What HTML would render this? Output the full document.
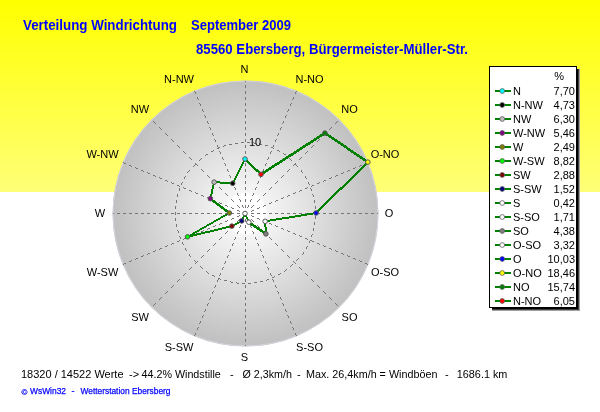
<!DOCTYPE html>
<html><head><meta charset="utf-8"><style>
html,body{margin:0;padding:0;background:#fff;}
body{width:600px;height:412px;overflow:hidden;position:relative;font-family:"Liberation Sans",sans-serif;}
svg{position:absolute;left:0;top:0;will-change:transform;}
svg text{font-family:"Liberation Sans",sans-serif;fill:#000;}

</style></head><body>
<svg width="600" height="412" viewBox="0 0 600 412">
<defs><linearGradient id="bg" x1="0" y1="0" x2="0" y2="1"><stop offset="0" stop-color="#FFFF00"/><stop offset="1" stop-color="#FFFF78"/></linearGradient><radialGradient id="disc" gradientUnits="userSpaceOnUse" cx="245.5" cy="213.5" r="133"><stop offset="0" stop-color="#FFFFFF"/><stop offset="0.152" stop-color="#FFFFFF"/><stop offset="0.162" stop-color="#F5F5F5"/><stop offset="1" stop-color="#C0C0C0"/></radialGradient></defs><rect x="0" y="0" width="600" height="192" fill="url(#bg)"/><circle cx="245.5" cy="213.5" r="133" fill="url(#disc)"/><circle cx="245.5" cy="213.5" r="132.4" fill="none" stroke="#D6D6E0" stroke-width="0.9"/><path fill="#767676" shape-rendering="crispEdges" d="M245 81h1v1h-1zM245 85h1v1h-1zM245 86h1v1h-1zM245 87h1v1h-1zM194 91h1v1h-1zM245 91h1v1h-1zM296 91h1v1h-1zM195 92h1v1h-1zM245 92h1v1h-1zM295 92h1v1h-1zM195 93h1v1h-1zM245 93h1v1h-1zM295 93h1v1h-1zM197 97h1v1h-1zM245 97h1v1h-1zM293 97h1v1h-1zM197 98h1v1h-1zM245 98h1v1h-1zM293 98h1v1h-1zM198 99h1v1h-1zM245 99h1v1h-1zM292 99h1v1h-1zM199 103h1v1h-1zM245 103h1v1h-1zM291 103h1v1h-1zM200 104h1v1h-1zM245 104h1v1h-1zM290 104h1v1h-1zM200 105h1v1h-1zM245 105h1v1h-1zM290 105h1v1h-1zM202 109h1v1h-1zM245 109h1v1h-1zM288 109h1v1h-1zM202 110h1v1h-1zM245 110h1v1h-1zM288 110h1v1h-1zM203 111h1v1h-1zM245 111h1v1h-1zM287 111h1v1h-1zM204 115h1v1h-1zM245 115h1v1h-1zM286 115h1v1h-1zM205 116h1v1h-1zM245 116h1v1h-1zM285 116h1v1h-1zM205 117h1v1h-1zM245 117h1v1h-1zM285 117h1v1h-1zM153 121h1v1h-1zM207 121h1v1h-1zM245 121h1v1h-1zM283 121h1v1h-1zM337 121h1v1h-1zM154 122h1v1h-1zM207 122h1v1h-1zM245 122h1v1h-1zM283 122h1v1h-1zM336 122h1v1h-1zM155 123h1v1h-1zM208 123h1v1h-1zM245 123h1v1h-1zM282 123h1v1h-1zM335 123h1v1h-1zM159 127h1v1h-1zM209 127h1v1h-1zM245 127h1v1h-1zM281 127h1v1h-1zM331 127h1v1h-1zM160 128h1v1h-1zM210 128h1v1h-1zM245 128h1v1h-1zM280 128h1v1h-1zM330 128h1v1h-1zM161 129h1v1h-1zM210 129h1v1h-1zM245 129h1v1h-1zM280 129h1v1h-1zM329 129h1v1h-1zM165 133h1v1h-1zM212 133h1v1h-1zM245 133h1v1h-1zM278 133h1v1h-1zM325 133h1v1h-1zM166 134h1v1h-1zM212 134h1v1h-1zM245 134h1v1h-1zM278 134h1v1h-1zM324 134h1v1h-1zM167 135h1v1h-1zM213 135h1v1h-1zM245 135h1v1h-1zM277 135h1v1h-1zM323 135h1v1h-1zM171 139h1v1h-1zM214 139h1v1h-1zM245 139h1v1h-1zM276 139h1v1h-1zM319 139h1v1h-1zM172 140h1v1h-1zM215 140h1v1h-1zM245 140h1v1h-1zM275 140h1v1h-1zM318 140h1v1h-1zM173 141h1v1h-1zM215 141h1v1h-1zM245 141h1v1h-1zM275 141h1v1h-1zM317 141h1v1h-1zM241 142h3v1h-3zM247 142h3v1h-3zM253 142h1v1h-1zM235 143h3v1h-3zM254 143h2v1h-2zM259 143h1v1h-1zM229 144h3v1h-3zM260 144h2v1h-2zM177 145h1v1h-1zM217 145h1v1h-1zM224 145h2v1h-2zM245 145h1v1h-1zM265 145h3v1h-3zM273 145h1v1h-1zM313 145h1v1h-1zM178 146h1v1h-1zM217 146h1v1h-1zM223 146h1v1h-1zM245 146h1v1h-1zM273 146h1v1h-1zM312 146h1v1h-1zM179 147h1v1h-1zM218 147h2v1h-2zM245 147h1v1h-1zM271 147h2v1h-2zM311 147h1v1h-1zM217 148h2v1h-2zM273 148h1v1h-1zM213 150h1v1h-1zM277 150h2v1h-2zM183 151h1v1h-1zM211 151h2v1h-2zM219 151h1v1h-1zM245 151h1v1h-1zM271 151h1v1h-1zM279 151h1v1h-1zM307 151h1v1h-1zM184 152h1v1h-1zM220 152h1v1h-1zM245 152h1v1h-1zM270 152h1v1h-1zM306 152h1v1h-1zM185 153h1v1h-1zM220 153h1v1h-1zM245 153h1v1h-1zM270 153h1v1h-1zM283 153h1v1h-1zM305 153h1v1h-1zM206 154h2v1h-2zM284 154h2v1h-2zM205 155h1v1h-1zM189 157h1v1h-1zM222 157h1v1h-1zM245 157h1v1h-1zM268 157h1v1h-1zM301 157h1v1h-1zM190 158h1v1h-1zM201 158h1v1h-1zM222 158h1v1h-1zM245 158h1v1h-1zM268 158h1v1h-1zM289 158h1v1h-1zM300 158h1v1h-1zM191 159h1v1h-1zM200 159h1v1h-1zM223 159h1v1h-1zM245 159h1v1h-1zM267 159h1v1h-1zM290 159h1v1h-1zM299 159h1v1h-1zM199 160h1v1h-1zM291 160h1v1h-1zM123 162h1v1h-1zM367 162h1v1h-1zM124 163h2v1h-2zM195 163h1v1h-1zM224 163h1v1h-1zM245 163h1v1h-1zM266 163h1v1h-1zM295 163h1v1h-1zM365 163h2v1h-2zM195 164h2v1h-2zM225 164h1v1h-1zM245 164h1v1h-1zM265 164h1v1h-1zM294 164h2v1h-2zM129 165h2v1h-2zM194 165h1v1h-1zM197 165h1v1h-1zM225 165h1v1h-1zM245 165h1v1h-1zM265 165h1v1h-1zM293 165h1v1h-1zM296 165h1v1h-1zM360 165h2v1h-2zM131 166h1v1h-1zM193 166h1v1h-1zM297 166h1v1h-1zM359 166h1v1h-1zM135 167h1v1h-1zM355 167h1v1h-1zM136 168h2v1h-2zM353 168h2v1h-2zM201 169h1v1h-1zM227 169h1v1h-1zM245 169h1v1h-1zM263 169h1v1h-1zM289 169h1v1h-1zM141 170h2v1h-2zM189 170h1v1h-1zM202 170h1v1h-1zM227 170h1v1h-1zM245 170h1v1h-1zM263 170h1v1h-1zM288 170h1v1h-1zM301 170h1v1h-1zM348 170h2v1h-2zM143 171h1v1h-1zM188 171h1v1h-1zM203 171h1v1h-1zM228 171h1v1h-1zM245 171h1v1h-1zM262 171h1v1h-1zM287 171h1v1h-1zM301 171h1v1h-1zM347 171h1v1h-1zM147 172h1v1h-1zM187 172h1v1h-1zM302 172h1v1h-1zM343 172h1v1h-1zM148 173h2v1h-2zM341 173h2v1h-2zM153 175h2v1h-2zM207 175h1v1h-1zM229 175h1v1h-1zM245 175h1v1h-1zM261 175h1v1h-1zM283 175h1v1h-1zM336 175h2v1h-2zM155 176h1v1h-1zM185 176h1v1h-1zM208 176h1v1h-1zM230 176h1v1h-1zM245 176h1v1h-1zM260 176h1v1h-1zM282 176h1v1h-1zM305 176h1v1h-1zM335 176h1v1h-1zM159 177h1v1h-1zM184 177h1v1h-1zM209 177h1v1h-1zM230 177h1v1h-1zM245 177h1v1h-1zM260 177h1v1h-1zM281 177h1v1h-1zM305 177h1v1h-1zM331 177h1v1h-1zM160 178h2v1h-2zM184 178h1v1h-1zM306 178h1v1h-1zM329 178h2v1h-2zM165 180h2v1h-2zM324 180h2v1h-2zM167 181h1v1h-1zM213 181h1v1h-1zM232 181h1v1h-1zM245 181h1v1h-1zM258 181h1v1h-1zM277 181h1v1h-1zM323 181h1v1h-1zM171 182h1v1h-1zM182 182h1v1h-1zM214 182h1v1h-1zM232 182h1v1h-1zM245 182h1v1h-1zM258 182h1v1h-1zM276 182h1v1h-1zM308 182h1v1h-1zM319 182h1v1h-1zM172 183h2v1h-2zM181 183h1v1h-1zM215 183h1v1h-1zM233 183h1v1h-1zM245 183h1v1h-1zM257 183h1v1h-1zM275 183h1v1h-1zM308 183h1v1h-1zM317 183h2v1h-2zM181 184h1v1h-1zM309 184h1v1h-1zM177 185h2v1h-2zM312 185h2v1h-2zM179 186h1v1h-1zM311 186h1v1h-1zM183 187h1v1h-1zM219 187h1v1h-1zM234 187h1v1h-1zM245 187h1v1h-1zM256 187h1v1h-1zM271 187h1v1h-1zM307 187h1v1h-1zM179 188h1v1h-1zM184 188h2v1h-2zM220 188h1v1h-1zM235 188h1v1h-1zM245 188h1v1h-1zM255 188h1v1h-1zM270 188h1v1h-1zM305 188h2v1h-2zM310 188h1v1h-1zM179 189h1v1h-1zM221 189h1v1h-1zM235 189h1v1h-1zM245 189h1v1h-1zM255 189h1v1h-1zM269 189h1v1h-1zM311 189h1v1h-1zM179 190h1v1h-1zM189 190h2v1h-2zM300 190h2v1h-2zM311 190h1v1h-1zM191 191h1v1h-1zM299 191h1v1h-1zM195 192h1v1h-1zM295 192h1v1h-1zM196 193h2v1h-2zM225 193h1v1h-1zM237 193h1v1h-1zM245 193h1v1h-1zM253 193h1v1h-1zM265 193h1v1h-1zM293 193h2v1h-2zM177 194h1v1h-1zM226 194h1v1h-1zM237 194h1v1h-1zM245 194h1v1h-1zM253 194h1v1h-1zM264 194h1v1h-1zM312 194h1v1h-1zM177 195h1v1h-1zM201 195h2v1h-2zM227 195h1v1h-1zM238 195h1v1h-1zM245 195h1v1h-1zM252 195h1v1h-1zM263 195h1v1h-1zM288 195h2v1h-2zM313 195h1v1h-1zM177 196h1v1h-1zM203 196h1v1h-1zM287 196h1v1h-1zM313 196h1v1h-1zM207 197h1v1h-1zM283 197h1v1h-1zM208 198h2v1h-2zM281 198h2v1h-2zM231 199h1v1h-1zM239 199h1v1h-1zM245 199h1v1h-1zM251 199h1v1h-1zM259 199h1v1h-1zM176 200h1v1h-1zM213 200h2v1h-2zM232 200h1v1h-1zM240 200h1v1h-1zM245 200h1v1h-1zM250 200h1v1h-1zM258 200h1v1h-1zM276 200h2v1h-2zM314 200h1v1h-1zM176 201h1v1h-1zM215 201h1v1h-1zM233 201h1v1h-1zM240 201h1v1h-1zM245 201h1v1h-1zM250 201h1v1h-1zM257 201h1v1h-1zM275 201h1v1h-1zM314 201h1v1h-1zM176 202h1v1h-1zM219 202h1v1h-1zM271 202h1v1h-1zM314 202h1v1h-1zM220 203h2v1h-2zM269 203h2v1h-2zM225 205h2v1h-2zM237 205h1v1h-1zM242 205h1v1h-1zM245 205h1v1h-1zM248 205h1v1h-1zM253 205h1v1h-1zM264 205h2v1h-2zM175 206h1v1h-1zM227 206h1v1h-1zM238 206h1v1h-1zM242 206h1v1h-1zM245 206h1v1h-1zM248 206h1v1h-1zM252 206h1v1h-1zM263 206h1v1h-1zM315 206h1v1h-1zM175 207h1v1h-1zM231 207h1v1h-1zM239 207h1v1h-1zM243 207h1v1h-1zM245 207h1v1h-1zM247 207h1v1h-1zM251 207h1v1h-1zM259 207h1v1h-1zM315 207h1v1h-1zM175 208h1v1h-1zM232 208h2v1h-2zM257 208h2v1h-2zM315 208h1v1h-1zM237 210h2v1h-2zM252 210h2v1h-2zM239 211h1v1h-1zM251 211h1v1h-1zM175 212h1v1h-1zM315 212h1v1h-1zM113 213h1v1h-1zM117 213h3v1h-3zM123 213h3v1h-3zM129 213h3v1h-3zM135 213h3v1h-3zM141 213h3v1h-3zM147 213h3v1h-3zM153 213h3v1h-3zM159 213h3v1h-3zM165 213h3v1h-3zM171 213h3v1h-3zM175 213h1v1h-1zM177 213h3v1h-3zM183 213h3v1h-3zM189 213h3v1h-3zM195 213h3v1h-3zM201 213h3v1h-3zM207 213h3v1h-3zM213 213h3v1h-3zM219 213h3v1h-3zM225 213h3v1h-3zM231 213h3v1h-3zM237 213h3v1h-3zM251 213h3v1h-3zM257 213h3v1h-3zM263 213h3v1h-3zM269 213h3v1h-3zM275 213h3v1h-3zM281 213h3v1h-3zM287 213h3v1h-3zM293 213h3v1h-3zM299 213h3v1h-3zM305 213h3v1h-3zM311 213h3v1h-3zM315 213h1v1h-1zM317 213h3v1h-3zM323 213h3v1h-3zM329 213h3v1h-3zM335 213h3v1h-3zM341 213h3v1h-3zM347 213h3v1h-3zM353 213h3v1h-3zM359 213h3v1h-3zM365 213h3v1h-3zM371 213h3v1h-3zM377 213h1v1h-1zM175 214h1v1h-1zM239 215h1v1h-1zM251 215h1v1h-1zM237 216h2v1h-2zM252 216h2v1h-2zM315 216h1v1h-1zM315 217h1v1h-1zM175 218h1v1h-1zM232 218h2v1h-2zM257 218h2v1h-2zM315 218h1v1h-1zM175 219h1v1h-1zM231 219h1v1h-1zM239 219h1v1h-1zM243 219h1v1h-1zM245 219h1v1h-1zM247 219h1v1h-1zM251 219h1v1h-1zM259 219h1v1h-1zM175 220h1v1h-1zM227 220h1v1h-1zM238 220h1v1h-1zM242 220h1v1h-1zM245 220h1v1h-1zM248 220h1v1h-1zM252 220h1v1h-1zM263 220h1v1h-1zM225 221h2v1h-2zM237 221h1v1h-1zM242 221h1v1h-1zM245 221h1v1h-1zM248 221h1v1h-1zM253 221h1v1h-1zM264 221h2v1h-2zM314 222h1v1h-1zM220 223h2v1h-2zM269 223h2v1h-2zM314 223h1v1h-1zM176 224h1v1h-1zM219 224h1v1h-1zM271 224h1v1h-1zM314 224h1v1h-1zM176 225h1v1h-1zM215 225h1v1h-1zM233 225h1v1h-1zM240 225h1v1h-1zM245 225h1v1h-1zM250 225h1v1h-1zM257 225h1v1h-1zM275 225h1v1h-1zM176 226h1v1h-1zM213 226h2v1h-2zM232 226h1v1h-1zM240 226h1v1h-1zM245 226h1v1h-1zM250 226h1v1h-1zM258 226h1v1h-1zM276 226h2v1h-2zM231 227h1v1h-1zM239 227h1v1h-1zM245 227h1v1h-1zM251 227h1v1h-1zM259 227h1v1h-1zM208 228h2v1h-2zM281 228h2v1h-2zM313 228h1v1h-1zM207 229h1v1h-1zM283 229h1v1h-1zM313 229h1v1h-1zM177 230h1v1h-1zM203 230h1v1h-1zM287 230h1v1h-1zM313 230h1v1h-1zM178 231h1v1h-1zM201 231h2v1h-2zM227 231h1v1h-1zM238 231h1v1h-1zM245 231h1v1h-1zM252 231h1v1h-1zM263 231h1v1h-1zM288 231h2v1h-2zM178 232h1v1h-1zM226 232h1v1h-1zM237 232h1v1h-1zM245 232h1v1h-1zM253 232h1v1h-1zM264 232h1v1h-1zM196 233h2v1h-2zM225 233h1v1h-1zM237 233h1v1h-1zM245 233h1v1h-1zM253 233h1v1h-1zM265 233h1v1h-1zM293 233h2v1h-2zM195 234h1v1h-1zM295 234h1v1h-1zM312 234h1v1h-1zM191 235h1v1h-1zM299 235h1v1h-1zM311 235h1v1h-1zM179 236h1v1h-1zM189 236h2v1h-2zM300 236h2v1h-2zM311 236h1v1h-1zM180 237h1v1h-1zM221 237h1v1h-1zM235 237h1v1h-1zM245 237h1v1h-1zM255 237h1v1h-1zM269 237h1v1h-1zM180 238h1v1h-1zM184 238h2v1h-2zM220 238h1v1h-1zM235 238h1v1h-1zM245 238h1v1h-1zM255 238h1v1h-1zM270 238h1v1h-1zM305 238h2v1h-2zM183 239h1v1h-1zM219 239h1v1h-1zM234 239h1v1h-1zM245 239h1v1h-1zM256 239h1v1h-1zM271 239h1v1h-1zM307 239h1v1h-1zM179 240h1v1h-1zM310 240h2v1h-2zM177 241h2v1h-2zM309 241h1v1h-1zM312 241h2v1h-2zM182 242h1v1h-1zM309 242h1v1h-1zM172 243h2v1h-2zM182 243h1v1h-1zM215 243h1v1h-1zM233 243h1v1h-1zM245 243h1v1h-1zM257 243h1v1h-1zM275 243h1v1h-1zM317 243h2v1h-2zM171 244h1v1h-1zM183 244h1v1h-1zM214 244h1v1h-1zM232 244h1v1h-1zM245 244h1v1h-1zM258 244h1v1h-1zM276 244h1v1h-1zM319 244h1v1h-1zM167 245h1v1h-1zM213 245h1v1h-1zM232 245h1v1h-1zM245 245h1v1h-1zM258 245h1v1h-1zM277 245h1v1h-1zM323 245h1v1h-1zM165 246h2v1h-2zM307 246h1v1h-1zM324 246h2v1h-2zM306 247h1v1h-1zM160 248h2v1h-2zM185 248h1v1h-1zM306 248h1v1h-1zM329 248h2v1h-2zM159 249h1v1h-1zM185 249h1v1h-1zM209 249h1v1h-1zM230 249h1v1h-1zM245 249h1v1h-1zM260 249h1v1h-1zM281 249h1v1h-1zM331 249h1v1h-1zM155 250h1v1h-1zM186 250h1v1h-1zM208 250h1v1h-1zM230 250h1v1h-1zM245 250h1v1h-1zM260 250h1v1h-1zM282 250h1v1h-1zM335 250h1v1h-1zM153 251h2v1h-2zM207 251h1v1h-1zM229 251h1v1h-1zM245 251h1v1h-1zM261 251h1v1h-1zM283 251h1v1h-1zM336 251h2v1h-2zM303 252h1v1h-1zM148 253h2v1h-2zM303 253h1v1h-1zM341 253h2v1h-2zM147 254h1v1h-1zM189 254h1v1h-1zM302 254h1v1h-1zM343 254h1v1h-1zM143 255h1v1h-1zM189 255h1v1h-1zM203 255h1v1h-1zM228 255h1v1h-1zM245 255h1v1h-1zM262 255h1v1h-1zM287 255h1v1h-1zM347 255h1v1h-1zM141 256h2v1h-2zM190 256h1v1h-1zM202 256h1v1h-1zM227 256h1v1h-1zM245 256h1v1h-1zM263 256h1v1h-1zM288 256h1v1h-1zM348 256h2v1h-2zM201 257h1v1h-1zM227 257h1v1h-1zM245 257h1v1h-1zM263 257h1v1h-1zM289 257h1v1h-1zM136 258h2v1h-2zM298 258h1v1h-1zM353 258h2v1h-2zM135 259h1v1h-1zM297 259h1v1h-1zM355 259h1v1h-1zM131 260h1v1h-1zM194 260h1v1h-1zM296 260h1v1h-1zM359 260h1v1h-1zM129 261h2v1h-2zM195 261h1v1h-1zM197 261h1v1h-1zM225 261h1v1h-1zM245 261h1v1h-1zM265 261h1v1h-1zM293 261h1v1h-1zM360 261h2v1h-2zM196 262h1v1h-1zM225 262h1v1h-1zM245 262h1v1h-1zM265 262h1v1h-1zM294 262h1v1h-1zM124 263h2v1h-2zM195 263h1v1h-1zM224 263h1v1h-1zM245 263h1v1h-1zM266 263h1v1h-1zM295 263h1v1h-1zM365 263h2v1h-2zM123 264h1v1h-1zM292 264h1v1h-1zM367 264h1v1h-1zM291 265h1v1h-1zM200 266h1v1h-1zM290 266h1v1h-1zM191 267h1v1h-1zM201 267h1v1h-1zM223 267h1v1h-1zM245 267h1v1h-1zM267 267h1v1h-1zM299 267h1v1h-1zM190 268h1v1h-1zM202 268h1v1h-1zM222 268h1v1h-1zM245 268h1v1h-1zM268 268h1v1h-1zM300 268h1v1h-1zM189 269h1v1h-1zM222 269h1v1h-1zM245 269h1v1h-1zM268 269h1v1h-1zM286 269h1v1h-1zM301 269h1v1h-1zM285 270h1v1h-1zM206 271h1v1h-1zM284 271h1v1h-1zM207 272h1v1h-1zM185 273h1v1h-1zM208 273h1v1h-1zM220 273h1v1h-1zM245 273h1v1h-1zM270 273h1v1h-1zM280 273h1v1h-1zM305 273h1v1h-1zM184 274h1v1h-1zM220 274h1v1h-1zM245 274h1v1h-1zM270 274h1v1h-1zM278 274h2v1h-2zM306 274h1v1h-1zM183 275h1v1h-1zM212 275h2v1h-2zM219 275h1v1h-1zM245 275h1v1h-1zM271 275h1v1h-1zM307 275h1v1h-1zM214 276h1v1h-1zM274 276h1v1h-1zM272 277h2v1h-2zM218 278h2v1h-2zM179 279h1v1h-1zM218 279h1v1h-1zM220 279h1v1h-1zM245 279h1v1h-1zM267 279h2v1h-2zM272 279h1v1h-1zM311 279h1v1h-1zM178 280h1v1h-1zM217 280h1v1h-1zM224 280h3v1h-3zM245 280h1v1h-1zM266 280h1v1h-1zM273 280h1v1h-1zM312 280h1v1h-1zM177 281h1v1h-1zM217 281h1v1h-1zM230 281h1v1h-1zM245 281h1v1h-1zM260 281h3v1h-3zM273 281h1v1h-1zM313 281h1v1h-1zM231 282h2v1h-2zM236 282h1v1h-1zM254 282h3v1h-3zM237 283h2v1h-2zM242 283h3v1h-3zM248 283h3v1h-3zM173 285h1v1h-1zM215 285h1v1h-1zM245 285h1v1h-1zM275 285h1v1h-1zM317 285h1v1h-1zM172 286h1v1h-1zM215 286h1v1h-1zM245 286h1v1h-1zM275 286h1v1h-1zM318 286h1v1h-1zM171 287h1v1h-1zM214 287h1v1h-1zM245 287h1v1h-1zM276 287h1v1h-1zM319 287h1v1h-1zM167 291h1v1h-1zM213 291h1v1h-1zM245 291h1v1h-1zM277 291h1v1h-1zM323 291h1v1h-1zM166 292h1v1h-1zM212 292h1v1h-1zM245 292h1v1h-1zM278 292h1v1h-1zM324 292h1v1h-1zM165 293h1v1h-1zM212 293h1v1h-1zM245 293h1v1h-1zM278 293h1v1h-1zM325 293h1v1h-1zM161 297h1v1h-1zM210 297h1v1h-1zM245 297h1v1h-1zM280 297h1v1h-1zM329 297h1v1h-1zM160 298h1v1h-1zM210 298h1v1h-1zM245 298h1v1h-1zM280 298h1v1h-1zM330 298h1v1h-1zM159 299h1v1h-1zM209 299h1v1h-1zM245 299h1v1h-1zM281 299h1v1h-1zM331 299h1v1h-1zM155 303h1v1h-1zM208 303h1v1h-1zM245 303h1v1h-1zM282 303h1v1h-1zM335 303h1v1h-1zM154 304h1v1h-1zM207 304h1v1h-1zM245 304h1v1h-1zM283 304h1v1h-1zM336 304h1v1h-1zM153 305h1v1h-1zM207 305h1v1h-1zM245 305h1v1h-1zM283 305h1v1h-1zM337 305h1v1h-1zM205 309h1v1h-1zM245 309h1v1h-1zM285 309h1v1h-1zM205 310h1v1h-1zM245 310h1v1h-1zM285 310h1v1h-1zM204 311h1v1h-1zM245 311h1v1h-1zM286 311h1v1h-1zM203 315h1v1h-1zM245 315h1v1h-1zM287 315h1v1h-1zM202 316h1v1h-1zM245 316h1v1h-1zM288 316h1v1h-1zM202 317h1v1h-1zM245 317h1v1h-1zM288 317h1v1h-1zM200 321h1v1h-1zM245 321h1v1h-1zM290 321h1v1h-1zM200 322h1v1h-1zM245 322h1v1h-1zM290 322h1v1h-1zM199 323h1v1h-1zM245 323h1v1h-1zM291 323h1v1h-1zM198 327h1v1h-1zM245 327h1v1h-1zM292 327h1v1h-1zM197 328h1v1h-1zM245 328h1v1h-1zM293 328h1v1h-1zM197 329h1v1h-1zM245 329h1v1h-1zM293 329h1v1h-1zM195 333h1v1h-1zM245 333h1v1h-1zM295 333h1v1h-1zM195 334h1v1h-1zM245 334h1v1h-1zM295 334h1v1h-1zM194 335h1v1h-1zM245 335h1v1h-1zM296 335h1v1h-1zM245 339h1v1h-1zM245 340h1v1h-1zM245 341h1v1h-1zM245 345h1v1h-1z"/><text x="249" y="146" font-size="11">10</text><path fill="#008000" shape-rendering="crispEdges" d="M324 131h1v1h-1zM324 132h2v1h-2zM322 133h6v1h-6zM320 134h9v1h-9zM319 135h5v1h-5zM326 135h5v1h-5zM317 136h5v1h-5zM328 136h4v1h-4zM316 137h4v1h-4zM329 137h5v1h-5zM314 138h5v1h-5zM331 138h4v1h-4zM313 139h4v1h-4zM332 139h5v1h-5zM311 140h5v1h-5zM334 140h4v1h-4zM310 141h4v1h-4zM335 141h5v1h-5zM308 142h5v1h-5zM337 142h4v1h-4zM306 143h5v1h-5zM338 143h5v1h-5zM305 144h5v1h-5zM340 144h4v1h-4zM303 145h5v1h-5zM341 145h5v1h-5zM302 146h4v1h-4zM343 146h4v1h-4zM300 147h5v1h-5zM344 147h4v1h-4zM299 148h4v1h-4zM346 148h4v1h-4zM297 149h5v1h-5zM347 149h4v1h-4zM296 150h4v1h-4zM348 150h5v1h-5zM294 151h5v1h-5zM350 151h4v1h-4zM293 152h4v1h-4zM351 152h5v1h-5zM291 153h5v1h-5zM353 153h4v1h-4zM289 154h5v1h-5zM354 154h5v1h-5zM288 155h5v1h-5zM356 155h4v1h-4zM286 156h5v1h-5zM357 156h5v1h-5zM244 157h1v1h-1zM285 157h4v1h-4zM359 157h4v1h-4zM244 158h2v1h-2zM283 158h5v1h-5zM360 158h5v1h-5zM244 159h3v1h-3zM282 159h4v1h-4zM362 159h4v1h-4zM243 160h5v1h-5zM280 160h5v1h-5zM363 160h5v1h-5zM243 161h2v1h-2zM246 161h3v1h-3zM279 161h4v1h-4zM365 161h3v1h-3zM242 162h2v1h-2zM247 162h3v1h-3zM277 162h5v1h-5zM366 162h2v1h-2zM242 163h2v1h-2zM248 163h3v1h-3zM275 163h5v1h-5zM365 163h3v1h-3zM241 164h2v1h-2zM249 164h3v1h-3zM274 164h5v1h-5zM364 164h3v1h-3zM241 165h2v1h-2zM250 165h3v1h-3zM272 165h5v1h-5zM363 165h3v1h-3zM240 166h2v1h-2zM251 166h3v1h-3zM271 166h4v1h-4zM362 166h3v1h-3zM240 167h2v1h-2zM252 167h3v1h-3zM269 167h5v1h-5zM361 167h3v1h-3zM239 168h2v1h-2zM253 168h3v1h-3zM268 168h4v1h-4zM360 168h3v1h-3zM239 169h2v1h-2zM254 169h4v1h-4zM266 169h5v1h-5zM359 169h3v1h-3zM238 170h2v1h-2zM255 170h4v1h-4zM265 170h4v1h-4zM358 170h3v1h-3zM238 171h2v1h-2zM256 171h4v1h-4zM263 171h5v1h-5zM357 171h3v1h-3zM237 172h2v1h-2zM258 172h3v1h-3zM262 172h4v1h-4zM356 172h3v1h-3zM237 173h2v1h-2zM259 173h6v1h-6zM355 173h3v1h-3zM236 174h2v1h-2zM260 174h3v1h-3zM354 174h3v1h-3zM236 175h2v1h-2zM261 175h1v1h-1zM353 175h3v1h-3zM235 176h2v1h-2zM352 176h3v1h-3zM235 177h2v1h-2zM351 177h3v1h-3zM234 178h2v1h-2zM350 178h3v1h-3zM234 179h2v1h-2zM349 179h3v1h-3zM233 180h2v1h-2zM348 180h3v1h-3zM214 181h6v1h-6zM233 181h2v1h-2zM347 181h3v1h-3zM213 182h21v1h-21zM346 182h3v1h-3zM213 183h2v1h-2zM220 183h14v1h-14zM345 183h3v1h-3zM213 184h2v1h-2zM344 184h3v1h-3zM212 185h2v1h-2zM343 185h3v1h-3zM212 186h2v1h-2zM342 186h3v1h-3zM212 187h2v1h-2zM340 187h4v1h-4zM212 188h2v1h-2zM339 188h4v1h-4zM211 189h2v1h-2zM338 189h4v1h-4zM211 190h2v1h-2zM337 190h3v1h-3zM211 191h2v1h-2zM336 191h3v1h-3zM211 192h2v1h-2zM335 192h3v1h-3zM211 193h2v1h-2zM334 193h3v1h-3zM210 194h2v1h-2zM333 194h3v1h-3zM210 195h2v1h-2zM332 195h3v1h-3zM210 196h2v1h-2zM331 196h3v1h-3zM210 197h2v1h-2zM330 197h3v1h-3zM209 198h3v1h-3zM329 198h3v1h-3zM210 199h3v1h-3zM328 199h3v1h-3zM211 200h4v1h-4zM327 200h3v1h-3zM212 201h4v1h-4zM326 201h3v1h-3zM213 202h4v1h-4zM325 202h3v1h-3zM215 203h4v1h-4zM324 203h3v1h-3zM216 204h4v1h-4zM323 204h3v1h-3zM217 205h4v1h-4zM322 205h3v1h-3zM219 206h4v1h-4zM321 206h3v1h-3zM220 207h4v1h-4zM320 207h3v1h-3zM221 208h4v1h-4zM319 208h3v1h-3zM223 209h4v1h-4zM318 209h3v1h-3zM224 210h4v1h-4zM317 210h3v1h-3zM225 211h4v1h-4zM316 211h3v1h-3zM227 212h3v1h-3zM313 212h5v1h-5zM227 213h3v1h-3zM244 213h2v1h-2zM307 213h10v1h-10zM225 214h3v1h-3zM229 214h1v1h-1zM244 214h2v1h-2zM301 214h12v1h-12zM223 215h4v1h-4zM243 215h4v1h-4zM295 215h12v1h-12zM221 216h4v1h-4zM243 216h4v1h-4zM289 216h12v1h-12zM220 217h3v1h-3zM242 217h2v1h-2zM246 217h2v1h-2zM282 217h13v1h-13zM218 218h3v1h-3zM242 218h2v1h-2zM246 218h2v1h-2zM276 218h13v1h-13zM216 219h4v1h-4zM241 219h2v1h-2zM247 219h2v1h-2zM270 219h12v1h-12zM214 220h4v1h-4zM241 220h2v1h-2zM247 220h2v1h-2zM265 220h11v1h-11zM213 221h3v1h-3zM239 221h3v1h-3zM248 221h2v1h-2zM264 221h6v1h-6zM211 222h3v1h-3zM237 222h4v1h-4zM248 222h3v1h-3zM264 222h2v1h-2zM209 223h4v1h-4zM235 223h4v1h-4zM249 223h4v1h-4zM264 223h2v1h-2zM207 224h4v1h-4zM233 224h4v1h-4zM250 224h4v1h-4zM264 224h2v1h-2zM206 225h3v1h-3zM230 225h5v1h-5zM251 225h5v1h-5zM264 225h2v1h-2zM204 226h3v1h-3zM226 226h7v1h-7zM253 226h4v1h-4zM264 226h2v1h-2zM202 227h4v1h-4zM222 227h8v1h-8zM254 227h5v1h-5zM265 227h2v1h-2zM200 228h4v1h-4zM218 228h8v1h-8zM256 228h4v1h-4zM265 228h2v1h-2zM199 229h3v1h-3zM214 229h8v1h-8zM257 229h5v1h-5zM265 229h2v1h-2zM197 230h3v1h-3zM210 230h8v1h-8zM259 230h4v1h-4zM265 230h2v1h-2zM195 231h4v1h-4zM205 231h9v1h-9zM260 231h7v1h-7zM193 232h4v1h-4zM201 232h9v1h-9zM262 232h5v1h-5zM192 233h3v1h-3zM197 233h8v1h-8zM263 233h4v1h-4zM190 234h11v1h-11zM265 234h1v1h-1zM188 235h9v1h-9zM187 236h6v1h-6zM187 237h2v1h-2z"/><circle cx="245.00" cy="159.04" r="2.3" fill="#00FFFF" stroke="#585858" stroke-width="1"/><circle cx="261.01" cy="174.35" r="2.3" fill="#FF0000" stroke="#585858" stroke-width="1"/><circle cx="324.91" cy="133.09" r="2.3" fill="#008000" stroke="#585858" stroke-width="1"/><circle cx="367.87" cy="162.11" r="2.3" fill="#FFFF00" stroke="#585858" stroke-width="1"/><circle cx="316.07" cy="213.00" r="2.3" fill="#0000FF" stroke="#585858" stroke-width="1"/><circle cx="265.13" cy="221.34" r="2.3" fill="#FFFFFF" stroke="#585858" stroke-width="1"/><circle cx="265.91" cy="233.91" r="2.3" fill="#808080" stroke="#585858" stroke-width="1"/><circle cx="248.81" cy="222.20" r="2.3" fill="#FFFFFF" stroke="#585858" stroke-width="1"/><circle cx="245.00" cy="213.48" r="2.3" fill="#FFFFFF" stroke="#585858" stroke-width="1"/><circle cx="241.72" cy="220.91" r="2.3" fill="#000080" stroke="#585858" stroke-width="1"/><circle cx="231.88" cy="226.12" r="2.3" fill="#800000" stroke="#585858" stroke-width="1"/><circle cx="187.55" cy="236.80" r="2.3" fill="#00FF00" stroke="#585858" stroke-width="1"/><circle cx="229.31" cy="213.00" r="2.3" fill="#808000" stroke="#585858" stroke-width="1"/><circle cx="210.35" cy="198.65" r="2.3" fill="#800080" stroke="#585858" stroke-width="1"/><circle cx="214.12" cy="182.12" r="2.3" fill="#C0C0C0" stroke="#585858" stroke-width="1"/><circle cx="232.70" cy="183.30" r="2.3" fill="#000000" stroke="#585858" stroke-width="1"/><text x="244.5" y="73" font-size="11" text-anchor="middle">N</text><text x="309.5" y="83" font-size="11" text-anchor="middle">N-NO</text><text x="349.5" y="113" font-size="11" text-anchor="middle">NO</text><text x="385.0" y="158" font-size="11" text-anchor="middle">O-NO</text><text x="389.0" y="217" font-size="11" text-anchor="middle">O</text><text x="385.0" y="276" font-size="11" text-anchor="middle">O-SO</text><text x="349.5" y="321" font-size="11" text-anchor="middle">SO</text><text x="309.5" y="351" font-size="11" text-anchor="middle">S-SO</text><text x="244.5" y="361" font-size="11" text-anchor="middle">S</text><text x="179.0" y="351" font-size="11" text-anchor="middle">S-SW</text><text x="140.0" y="321" font-size="11" text-anchor="middle">SW</text><text x="102.5" y="276" font-size="11" text-anchor="middle">W-SW</text><text x="100.0" y="217" font-size="11" text-anchor="middle">W</text><text x="102.5" y="158" font-size="11" text-anchor="middle">W-NW</text><text x="140.0" y="113" font-size="11" text-anchor="middle">NW</text><text x="179.0" y="83" font-size="11" text-anchor="middle">N-NW</text><g shape-rendering="crispEdges"><rect x="579" y="69" width="1" height="242" fill="#A0A0A0"/><rect x="492" y="310" width="88" height="1" fill="#A0A0A0"/><rect x="578" y="69" width="1" height="241" fill="#404040"/><rect x="492" y="309" width="87" height="1" fill="#404040"/><rect x="577" y="69" width="1" height="240" fill="#000"/><rect x="492" y="308" width="86" height="1" fill="#000"/></g><rect x="489.5" y="66.5" width="87" height="241" fill="#fff" stroke="#000" stroke-width="1"/><text x="564" y="80" font-size="11" text-anchor="end">%</text><line x1="495" y1="91" x2="511" y2="91" stroke="#008000" stroke-width="2"/><circle cx="502.2" cy="91" r="2.4" fill="#00FFFF" stroke="#606060" stroke-width="0.8"/><text x="513" y="95" font-size="11">N</text><text x="575" y="95" font-size="11" text-anchor="end">7,70</text><line x1="495" y1="105" x2="511" y2="105" stroke="#008000" stroke-width="2"/><circle cx="502.2" cy="105" r="2.4" fill="#000000" stroke="#606060" stroke-width="0.8"/><text x="513" y="109" font-size="11">N-NW</text><text x="575" y="109" font-size="11" text-anchor="end">4,73</text><line x1="495" y1="119" x2="511" y2="119" stroke="#008000" stroke-width="2"/><circle cx="502.2" cy="119" r="2.4" fill="#C0C0C0" stroke="#606060" stroke-width="0.8"/><text x="513" y="123" font-size="11">NW</text><text x="575" y="123" font-size="11" text-anchor="end">6,30</text><line x1="495" y1="133" x2="511" y2="133" stroke="#008000" stroke-width="2"/><circle cx="502.2" cy="133" r="2.4" fill="#800080" stroke="#606060" stroke-width="0.8"/><text x="513" y="137" font-size="11">W-NW</text><text x="575" y="137" font-size="11" text-anchor="end">5,46</text><line x1="495" y1="147" x2="511" y2="147" stroke="#008000" stroke-width="2"/><circle cx="502.2" cy="147" r="2.4" fill="#808000" stroke="#606060" stroke-width="0.8"/><text x="513" y="151" font-size="11">W</text><text x="575" y="151" font-size="11" text-anchor="end">2,49</text><line x1="495" y1="161" x2="511" y2="161" stroke="#008000" stroke-width="2"/><circle cx="502.2" cy="161" r="2.4" fill="#00FF00" stroke="#606060" stroke-width="0.8"/><text x="513" y="165" font-size="11">W-SW</text><text x="575" y="165" font-size="11" text-anchor="end">8,82</text><line x1="495" y1="175" x2="511" y2="175" stroke="#008000" stroke-width="2"/><circle cx="502.2" cy="175" r="2.4" fill="#800000" stroke="#606060" stroke-width="0.8"/><text x="513" y="179" font-size="11">SW</text><text x="575" y="179" font-size="11" text-anchor="end">2,88</text><line x1="495" y1="189" x2="511" y2="189" stroke="#008000" stroke-width="2"/><circle cx="502.2" cy="189" r="2.4" fill="#000080" stroke="#606060" stroke-width="0.8"/><text x="513" y="193" font-size="11">S-SW</text><text x="575" y="193" font-size="11" text-anchor="end">1,52</text><line x1="495" y1="203" x2="511" y2="203" stroke="#008000" stroke-width="2"/><circle cx="502.2" cy="203" r="2.4" fill="#FFFFFF" stroke="#606060" stroke-width="0.8"/><text x="513" y="207" font-size="11">S</text><text x="575" y="207" font-size="11" text-anchor="end">0,42</text><line x1="495" y1="217" x2="511" y2="217" stroke="#008000" stroke-width="2"/><circle cx="502.2" cy="217" r="2.4" fill="#FFFFFF" stroke="#606060" stroke-width="0.8"/><text x="513" y="221" font-size="11">S-SO</text><text x="575" y="221" font-size="11" text-anchor="end">1,71</text><line x1="495" y1="231" x2="511" y2="231" stroke="#008000" stroke-width="2"/><circle cx="502.2" cy="231" r="2.4" fill="#808080" stroke="#606060" stroke-width="0.8"/><text x="513" y="235" font-size="11">SO</text><text x="575" y="235" font-size="11" text-anchor="end">4,38</text><line x1="495" y1="245" x2="511" y2="245" stroke="#008000" stroke-width="2"/><circle cx="502.2" cy="245" r="2.4" fill="#FFFFFF" stroke="#606060" stroke-width="0.8"/><text x="513" y="249" font-size="11">O-SO</text><text x="575" y="249" font-size="11" text-anchor="end">3,32</text><line x1="495" y1="259" x2="511" y2="259" stroke="#008000" stroke-width="2"/><circle cx="502.2" cy="259" r="2.4" fill="#0000FF" stroke="#606060" stroke-width="0.8"/><text x="513" y="263" font-size="11">O</text><text x="575" y="263" font-size="11" text-anchor="end">10,03</text><line x1="495" y1="273" x2="511" y2="273" stroke="#008000" stroke-width="2"/><circle cx="502.2" cy="273" r="2.4" fill="#FFFF00" stroke="#606060" stroke-width="0.8"/><text x="513" y="277" font-size="11">O-NO</text><text x="575" y="277" font-size="11" text-anchor="end">18,46</text><line x1="495" y1="287" x2="511" y2="287" stroke="#008000" stroke-width="2"/><circle cx="502.2" cy="287" r="2.4" fill="#008000" stroke="#606060" stroke-width="0.8"/><text x="513" y="291" font-size="11">NO</text><text x="575" y="291" font-size="11" text-anchor="end">15,74</text><line x1="495" y1="301" x2="511" y2="301" stroke="#008000" stroke-width="2"/><circle cx="502.2" cy="301" r="2.4" fill="#FF0000" stroke="#606060" stroke-width="0.8"/><text x="513" y="305" font-size="11">N-NO</text><text x="575" y="305" font-size="11" text-anchor="end">6,05</text>
<text x="23" y="30" font-size="14.4" font-weight="bold" style="fill:#0000FF" textLength="154" lengthAdjust="spacingAndGlyphs">Verteilung Windrichtung</text>
<text x="191" y="30" font-size="14.4" font-weight="bold" style="fill:#0000FF" textLength="100" lengthAdjust="spacingAndGlyphs">September 2009</text>
<text x="196" y="54" font-size="14.4" font-weight="bold" style="fill:#0000FF" textLength="272" lengthAdjust="spacingAndGlyphs">85560 Ebersberg, Bürgermeister-Müller-Str.</text>
<text x="21" y="378" font-size="11">18320 / 14522 Werte</text>
<text x="129" y="378" font-size="11">-&gt;</text>
<text x="141.5" y="378" font-size="11" textLength="79.3" lengthAdjust="spacingAndGlyphs">44.2% Windstille</text>
<text x="230" y="378" font-size="11">-</text>
<text x="242.5" y="378" font-size="11" textLength="49.4" lengthAdjust="spacingAndGlyphs">Ø 2,3km/h</text>
<text x="297" y="378" font-size="11">-</text>
<text x="306" y="378" font-size="11" textLength="131.4" lengthAdjust="spacingAndGlyphs">Max. 26,4km/h = Windböen</text>
<text x="445" y="378" font-size="11">-</text>
<text x="456.8" y="378" font-size="11" textLength="50.6" lengthAdjust="spacingAndGlyphs">1686.1 km</text>
<text x="21.6" y="394.5" font-size="8" style="fill:#0000FF;stroke:#0000FF;stroke-width:0.25">©</text><text x="30" y="394.4" font-size="9" style="fill:#0000FF;stroke:#0000FF;stroke-width:0.25" textLength="36" lengthAdjust="spacingAndGlyphs">WsWin32</text>
<text x="71.5" y="394.4" font-size="9" style="fill:#0000FF;stroke:#0000FF;stroke-width:0.25">-</text>
<text x="80.5" y="394.4" font-size="9" style="fill:#0000FF;stroke:#0000FF;stroke-width:0.25" textLength="90" lengthAdjust="spacingAndGlyphs">Wetterstation Ebersberg</text>
</svg>
</body></html>
